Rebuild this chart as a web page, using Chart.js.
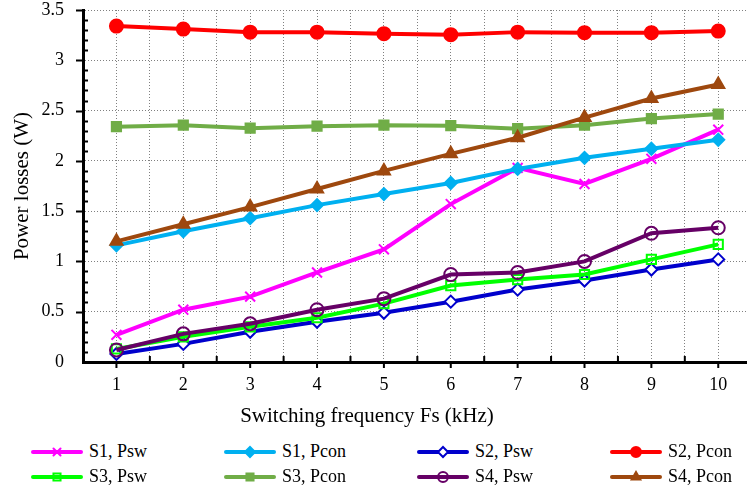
<!DOCTYPE html>
<html>
<head>
<meta charset="utf-8">
<script src="https://cdn.jsdelivr.net/npm/chart.js@4/dist/chart.umd.min.js"></script>
<style>
  html, body { margin: 0; padding: 0; background: #fff; overflow: hidden; }
  #wrap { position: relative; width: 747px; height: 493px; overflow: hidden; }
  /* a bit wider than the window: the label "10" reserves room on the right,
     the original plot runs to the picture edge */
  #box { position: absolute; left: 0; top: 0; width: 756px; height: 432px; }
  #xtitle {
    position: absolute; left: 0; top: 403px; width: 734px; height: 24px; line-height: 24px;
    text-align: center; font-family: "Liberation Serif", "Times New Roman", serif; font-size: 21px; color: #000;
  }
  #legend {
    position: absolute; left: 31px; top: 439px;
    display: grid; grid-template-columns: repeat(4, 193px); grid-auto-rows: 25.3px;
    font-family: "Liberation Serif", "Times New Roman", serif; font-size: 18px; color: #000;
  }
  .item { display: flex; align-items: center; white-space: nowrap; }
  .item canvas { width: 52px; height: 16px; margin-right: 6px; }
</style>
</head>
<body>
<div id="wrap">
  <div id="box"><canvas id="chart"></canvas></div>
  <div id="xtitle">Switching frequency Fs (kHz)</div>
  <div id="legend"></div>
</div>
<script>
// x categories: switching frequency (kHz)
const freqs = [1, 2, 3, 4, 5, 6, 7, 8, 9, 10];

// power losses (W)
const s1Psw  = [0.27, 0.52, 0.65, 0.89, 1.12, 1.57, 1.93, 1.77, 2.02, 2.31];
const s1Pcon = [1.16, 1.30, 1.43, 1.56, 1.67, 1.78, 1.92, 2.03, 2.12, 2.21];
const s2Psw  = [0.08, 0.18, 0.30, 0.40, 0.49, 0.60, 0.72, 0.81, 0.92, 1.02];
const s2Pcon = [3.34, 3.31, 3.28, 3.28, 3.265, 3.255, 3.28, 3.275, 3.275, 3.29];
const s3Psw  = [0.13, 0.25, 0.35, 0.44, 0.58, 0.76, 0.82, 0.87, 1.02, 1.17];
const s3Pcon = [2.34, 2.355, 2.325, 2.345, 2.355, 2.35, 2.32, 2.355, 2.42, 2.465];
const s4Psw  = [0.12, 0.28, 0.38, 0.52, 0.63, 0.87, 0.89, 1.00, 1.28, 1.335];
const s4Pcon = [1.20, 1.37, 1.54, 1.72, 1.90, 2.07, 2.23, 2.43, 2.62, 2.76];

const yTicks = [0, 0.5, 1, 1.5, 2, 2.5, 3, 3.5];

const FONT = "'Liberation Serif', 'Times New Roman', serif";

function series(label, values, color, style, radius, filled) {
  return {
    label,
    data: freqs.map((f, i) => ({ x: f, y: values[i] })),
    borderColor: color,
    backgroundColor: color,
    borderWidth: 4,
    pointStyle: style,
    pointRadius: radius,
    pointHoverRadius: radius,
    pointBorderColor: color,
    pointBackgroundColor: filled ? color : "rgba(255,255,255,0)",
    pointBorderWidth: 2,
    tension: 0
  };
}

const datasets = [
  series("S1, Psw",  s1Psw,  "#FF00FF", "crossRot", 7,   false),
  series("S1, Pcon", s1Pcon, "#00B0F0", "rectRot",  6,   true),
  series("S2, Psw",  s2Psw,  "#0000CC", "rectRot",  6,   false),
  series("S2, Pcon", s2Pcon, "#FF0000", "circle",   6.5, true),
  series("S3, Psw",  s3Psw,  "#00FF00", "rect",     6.5, false),
  series("S3, Pcon", s3Pcon, "#70AD47", "rect",     6.5, true),
  series("S4, Psw",  s4Psw,  "#660066", "circle",   6.5, false),
  series("S4, Pcon", s4Pcon, "#9E480E", "triangle", 7,   true)
];
// later series on top, like the original
datasets.forEach((d, i) => { d.order = datasets.length - i; });
datasets[2].pointBackgroundColor = "#FFFFFF";

// axis tick marks: majors outside, minors inside
const axisTicks = {
  id: "axisTicks",
  afterDatasetsDraw(chart) {
    const { ctx, scales: { x, y } } = chart;
    const y0 = y.getPixelForValue(0);
    const x0 = x.left;
    ctx.save();
    ctx.strokeStyle = "#000";
    ctx.lineWidth = 2;
    ctx.beginPath();
    for (let k = 2; k <= 21; k++) {
      const v = k / 2;
      const px = x.getPixelForValue(v);
      if (px > x.right) break;
      if (k % 2 === 0) { ctx.moveTo(px, y0); ctx.lineTo(px, y0 + 6); }
      else { ctx.moveTo(px, y0); ctx.lineTo(px, y0 - 6); }
    }
    for (let i = 1; i <= 35; i++) {
      const py = Math.round(y.getPixelForValue(i / 10)) + 0.5;
      if (i % 5 === 0) { ctx.moveTo(x0 - 7, py); ctx.lineTo(x0, py); }
      else { ctx.moveTo(x0, py); ctx.lineTo(x0 + 5, py); }
    }
    ctx.stroke();
    ctx.restore();
  }
};

const gridStyle = { color: "#808080", lineWidth: 1, drawTicks: false };

const chart = new Chart(document.getElementById("chart"), {
  type: "line",
  data: { datasets },
  plugins: [axisTicks],
  options: {
    responsive: true,
    maintainAspectRatio: false,
    animation: false,
    layout: { padding: 0 },
    plugins: { legend: { display: false }, tooltip: { enabled: false } },
    scales: {
      x: {
        type: "linear",
        min: 0.5,
        max: 10.43,
        afterBuildTicks: (s) => {
          const t = [];
          for (let k = 1; k <= 20; k++) t.push({ value: k / 2 });
          s.ticks = t;
        },
        afterFit: (s) => { s.height = 70; },
        grid: gridStyle,
        border: { display: true, color: "#000", width: 3, dash: [1, 2] },
        ticks: {
          autoSkip: false, maxRotation: 0, padding: 12,
          color: "#000", font: { family: FONT, size: 18 },
          callback: (v) => Number.isInteger(v) ? String(v) : ""
        }
      },
      y: {
        min: 0,
        max: 3.5,
        afterBuildTicks: (s) => { s.ticks = yTicks.map(v => ({ value: v })); },
        afterFit: (s) => { s.width = 83; s.paddingTop = 10; s.paddingBottom = 0; },
        grid: gridStyle,
        border: { display: true, color: "#000", width: 3, dash: [1, 2] },
        ticks: {
          padding: 19, color: "#000", font: { family: FONT, size: 18 },
          callback: (v) => String(v)
        },
        title: {
          display: true, text: "Power losses (W)",
          color: "#000", font: { family: FONT, size: 21 },
          padding: { top: 10, bottom: 0 }
        }
      }
    }
  }
});

// HTML legend: 4 columns x 2 rows
const legend = document.getElementById("legend");
chart.data.datasets.forEach((ds) => {
  const item = document.createElement("div");
  item.className = "item";
  const c = document.createElement("canvas");
  c.width = 52; c.height = 16;
  const g = c.getContext("2d");
  g.strokeStyle = ds.borderColor;
  g.lineWidth = 4;
  g.lineCap = "round";
  g.beginPath(); g.moveTo(2, 8); g.lineTo(50, 8); g.stroke();
  g.fillStyle = ds.pointBackgroundColor;
  g.strokeStyle = ds.pointBorderColor;
  g.lineWidth = 2;
  Chart.helpers.drawPoint(g, { pointStyle: ds.pointStyle, radius: 5, borderWidth: 2, rotation: 0 }, 26, 8);
  const span = document.createElement("span");
  span.textContent = ds.label;
  item.appendChild(c);
  item.appendChild(span);
  legend.appendChild(item);
});
</script>
</body>
</html>
